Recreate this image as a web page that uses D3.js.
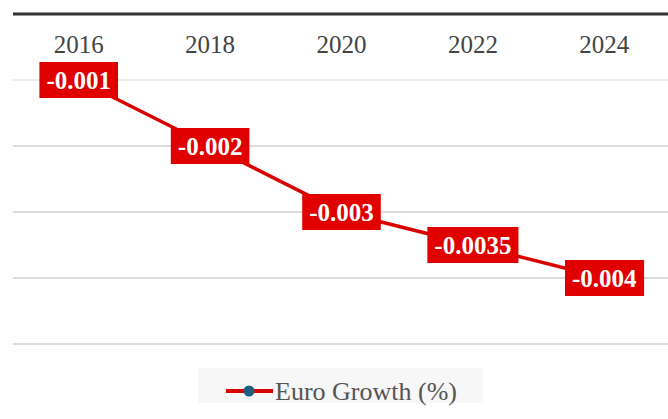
<!DOCTYPE html>
<html>
<head>
<meta charset="utf-8">
<script src="https://cdn.jsdelivr.net/npm/d3@7"></script>
<style>
  html, body { margin: 0; padding: 0; background: #fff; }
  svg { display: block; }
</style>
</head>
<body>
<svg id="chart" width="668" height="419"></svg>
<script>
// Euro growth by year
const years = ["2016", "2018", "2020", "2022", "2024"];
const growth = [-0.001, -0.002, -0.003, -0.0035, -0.004];
const yTicks = [-0.001, -0.002, -0.003, -0.004, -0.005];
const seriesName = "Euro Growth (%)";

const svg = d3.select("#chart");
const plotLeft = 13, plotRight = 670, plotTop = 14, plotBottom = 344;

const x = d3.scaleBand().domain(years).range([plotLeft, plotRight]);
const cx = d => x(d) + x.bandwidth() / 2;
const y = d3.scaleLinear().domain([0, -0.005]).range([plotTop, plotBottom]);

// horizontal grid lines
svg.append("g")
  .selectAll("line")
  .data(yTicks)
  .join("line")
  .attr("x1", plotLeft).attr("x2", 668)
  .attr("y1", d => y(d)).attr("y2", d => y(d))
  .attr("stroke", (d, i) => i === 0 ? "#e6e6e6" : "#cfcfcf")
  .attr("stroke-width", 1.5);

// category axis along the top
const xAxis = svg.append("g")
  .attr("transform", `translate(0,${y(0)})`)
  .call(d3.axisTop(x).tickSize(0).tickPadding(0));
xAxis.select(".domain").remove();
svg.append("line")
  .attr("x1", plotLeft).attr("x2", 668)
  .attr("y1", y(0)).attr("y2", y(0))
  .attr("stroke", "#333").attr("stroke-width", 3);
xAxis.selectAll("text")
  .attr("y", 0)
  .attr("dy", "1.55em")
  .attr("font-family", "'Liberation Serif', 'Times New Roman', serif")
  .attr("font-size", 25)
  .attr("fill", "#444");

// series line
const line = d3.line()
  .x((d, i) => cx(years[i]))
  .y(d => y(d));
svg.append("path")
  .datum(growth)
  .attr("d", line)
  .attr("fill", "none")
  .attr("stroke", "#d80000")
  .attr("stroke-width", 3.5);

// point markers
svg.append("g")
  .selectAll("circle")
  .data(growth)
  .join("circle")
  .attr("cx", (d, i) => cx(years[i]))
  .attr("cy", d => y(d))
  .attr("r", 5)
  .attr("fill", "#1d5f7c");

// value labels on red boxes
const labels = svg.append("g")
  .selectAll("g")
  .data(growth)
  .join("g")
  .attr("transform", (d, i) => `translate(${cx(years[i])},${y(d)})`);
const texts = labels.append("text")
  .text(d => String(d))
  .attr("text-anchor", "middle")
  .attr("dy", "0.35em")
  .attr("font-family", "'Liberation Serif', 'Times New Roman', serif")
  .attr("font-weight", "bold")
  .attr("font-size", 25)
  .attr("fill", "#fff");
texts.each(function () {
  const b = this.getBBox();
  d3.select(this.parentNode).insert("rect", "text")
    .attr("x", b.x - 7).attr("y", -18)
    .attr("width", b.width + 14).attr("height", 36)
    .attr("fill", "#e00000");
});

// legend
const lg = svg.append("g");
lg.append("rect")
  .attr("x", 198).attr("y", 368).attr("width", 285).attr("height", 35)
  .attr("fill", "#f7f7f7");
lg.append("line")
  .attr("x1", 226).attr("x2", 273).attr("y1", 391).attr("y2", 391)
  .attr("stroke", "#d80000").attr("stroke-width", 4);
lg.append("circle")
  .attr("cx", 249).attr("cy", 391).attr("r", 5.5)
  .attr("fill", "#1d5f7c");
lg.append("text")
  .attr("x", 275).attr("y", 391).attr("dy", "0.35em")
  .attr("font-family", "'Liberation Serif', 'Times New Roman', serif")
  .attr("font-size", 26)
  .attr("fill", "#555")
  .text(seriesName);
</script>
</body>
</html>
